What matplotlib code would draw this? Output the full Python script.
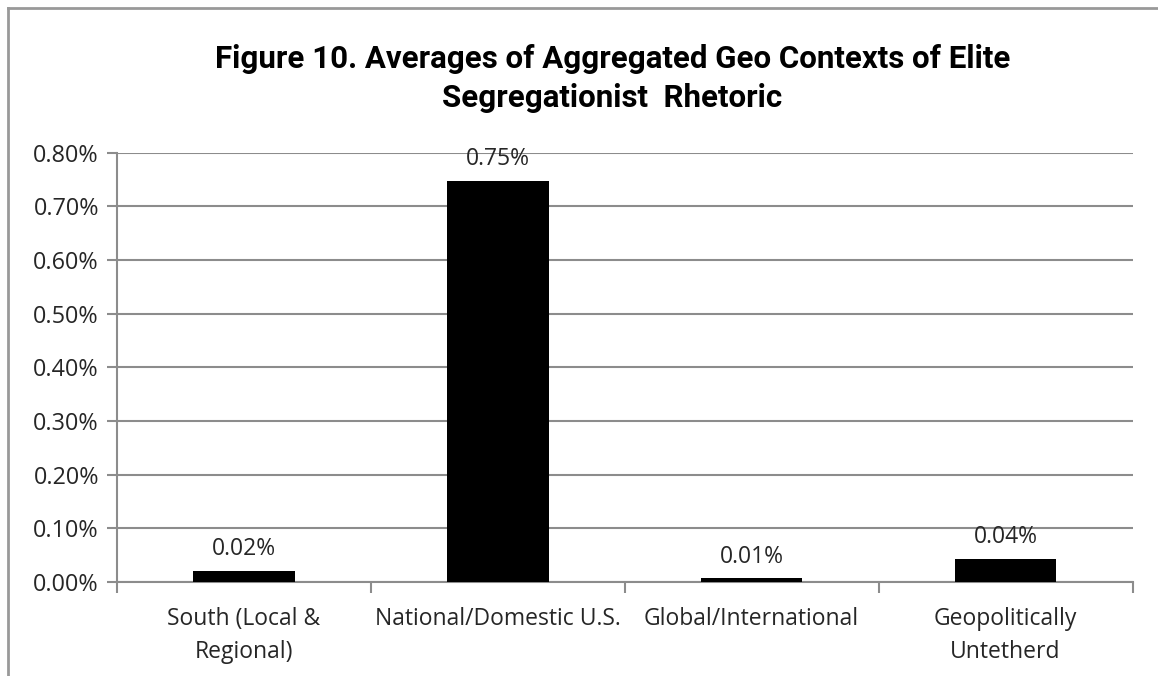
import matplotlib
matplotlib.use('Agg')
import matplotlib.pyplot as plt
from matplotlib.ticker import PercentFormatter
from matplotlib.lines import Line2D

plt.rcParams['font.family'] = ['Open Sans', 'DejaVu Sans']

# data
categories = ['South (Local &\nRegional)', 'National/Domestic U.S.',
              'Global/International', 'Geopolitically\nUntetherd']
values = [0.021, 0.748, 0.007, 0.043]   # percent

grid_col = '#8c8c8c'
text_col = '#262626'

fig = plt.figure(figsize=(11.58, 6.76), dpi=100)
ax = fig.add_axes([0.101, 0.139, 0.877, 0.635])

x = list(range(len(categories)))
ax.bar(x, values, width=0.4, color='black', zorder=3)

for xi, v in zip(x, values):
    ax.annotate(f'{v:.2f}%', xy=(xi, v), xytext=(0, 7), textcoords='offset points',
                ha='center', va='bottom', fontsize=16.5, color=text_col)

ax.set_xlim(-0.5, len(categories) - 0.5)
ax.set_ylim(0, 0.8)
ax.set_yticks([i / 10 for i in range(9)])
ax.yaxis.set_major_formatter(PercentFormatter(xmax=100, decimals=2))
ax.grid(axis='y', color=grid_col, linewidth=1.5, zorder=0)

ax.set_xticks(x)
ax.set_xticklabels(categories, linespacing=1.5)
ax.set_xticks([i - 0.5 for i in range(len(categories) + 1)], minor=True)
ax.tick_params(axis='x', which='major', length=0, pad=18, labelsize=16.5, labelcolor=text_col)
ax.tick_params(axis='x', which='minor', length=8, width=1.5, color=grid_col)
ax.tick_params(axis='y', length=7, width=1.5, color=grid_col, labelsize=16.8,
               labelcolor=text_col, pad=6)

for side in ['top', 'right']:
    ax.spines[side].set_visible(False)
for side in ['left', 'bottom']:
    ax.spines[side].set_color(grid_col)
    ax.spines[side].set_linewidth(1.5)

fig.text(0.529, 0.884, 'Figure 10. Averages of Aggregated Geo Contexts of Elite\nSegregationist  Rhetoric',
         ha='center', va='center', fontsize=22.5, fontweight='bold', color='black',
         family=['Roboto', 'DejaVu Sans'], linespacing=1.4)

# chart border (top and left visible)
fig.add_artist(Line2D([8 / 1158, 8 / 1158], [0, 1 - 8 / 676], transform=fig.transFigure,
                      color='#999999', linewidth=2))
fig.add_artist(Line2D([8 / 1158, 1], [1 - 8 / 676, 1 - 8 / 676], transform=fig.transFigure,
                      color='#999999', linewidth=2))

fig.savefig('out.png', dpi=100)
plt.close(fig)
